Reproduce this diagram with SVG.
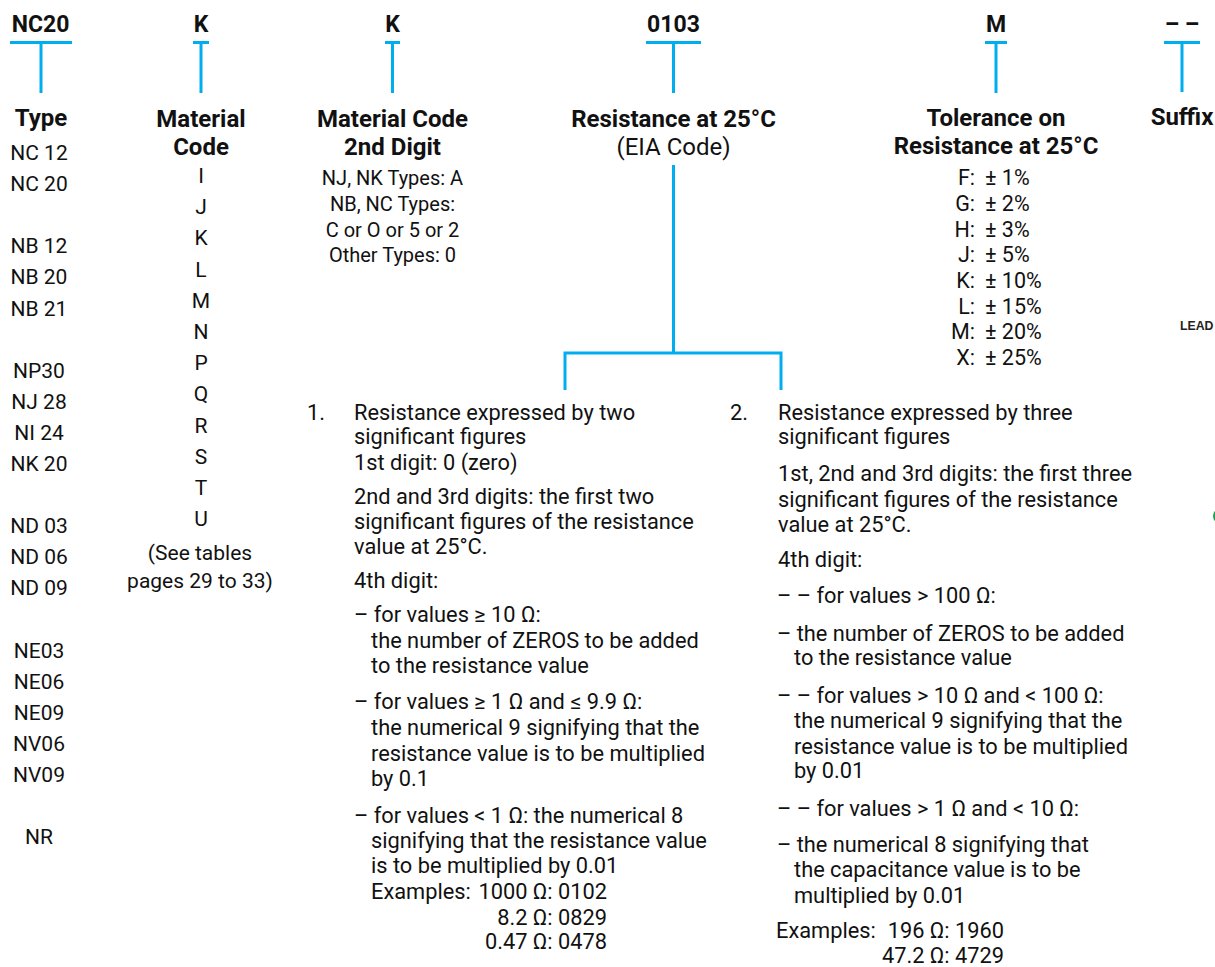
<svg xmlns="http://www.w3.org/2000/svg" width="1215" height="967" viewBox="0 0 1215 967">
<style>
text{font-family:Roboto,"Liberation Sans",sans-serif;fill:#111}
.code{font-size:23px;font-weight:bold;text-anchor:middle}
.hd{font-size:24px;font-weight:bold;text-anchor:middle}
.c{font-size:21px;text-anchor:middle}
.c2{font-size:20px;text-anchor:middle}
.p{font-size:21.8px}
.e{font-size:21.8px;text-anchor:end}
.t{font-size:21.5px}
.te{font-size:21.5px;text-anchor:end}
.ln{stroke:#00AEEF;stroke-width:3;fill:none}
</style>
<rect width="1215" height="967" fill="#fff"/>
<g id="connectors">
<path class="ln" d="M10 42.5H72M41 42.5V93"/>
<path class="ln" d="M193 42.5H209M201 42.5V93"/>
<path class="ln" d="M385 42.5H400M392.5 42.5V93"/>
<path class="ln" d="M646 42.5H701M673.5 42.5V93"/>
<path class="ln" d="M985 42.5H1007M996 42.5V93"/>
<path class="ln" d="M1164 42.5H1200M1182 42.5V92"/>
<path class="ln" d="M673.5 165V353M565 390V353H781V390"/>
</g>
<g id="type">
<text class="code" x="40.5" y="32">NC20</text>
<text class="hd" x="41" y="126">Type</text>
<text class="c" x="39" y="160">NC 12</text>
<text class="c" x="39" y="191.1">NC 20</text>
<text class="c" x="39" y="253.3">NB 12</text>
<text class="c" x="39" y="284.4">NB 20</text>
<text class="c" x="39" y="315.5">NB 21</text>
<text class="c" x="39" y="377.7">NP30</text>
<text class="c" x="39" y="408.8">NJ 28</text>
<text class="c" x="39" y="439.9">NI 24</text>
<text class="c" x="39" y="471">NK 20</text>
<text class="c" x="39" y="533.2">ND 03</text>
<text class="c" x="39" y="564.3">ND 06</text>
<text class="c" x="39" y="595.4">ND 09</text>
<text class="c" x="39" y="657.6">NE03</text>
<text class="c" x="39" y="688.7">NE06</text>
<text class="c" x="39" y="719.8">NE09</text>
<text class="c" x="39" y="750.9">NV06</text>
<text class="c" x="39" y="782">NV09</text>
<text class="c" x="39" y="844.2">NR</text>
</g>
<g id="material-code">
<text class="code" x="201" y="32">K</text>
<text class="hd" x="201" y="127">Material</text>
<text class="hd" x="201" y="155">Code</text>
<text class="c" x="201" y="183">I</text>
<text class="c" x="201" y="214.2">J</text>
<text class="c" x="201" y="245.4">K</text>
<text class="c" x="201" y="276.6">L</text>
<text class="c" x="201" y="307.8">M</text>
<text class="c" x="201" y="339">N</text>
<text class="c" x="201" y="370.2">P</text>
<text class="c" x="201" y="401.4">Q</text>
<text class="c" x="201" y="432.6">R</text>
<text class="c" x="201" y="463.8">S</text>
<text class="c" x="201" y="495">T</text>
<text class="c" x="201" y="526.2">U</text>
<text class="c" x="200" y="560">(See tables</text>
<text class="c" x="200" y="588">pages 29 to 33)</text>
</g>
<g id="material-code-2nd">
<text class="code" x="392.5" y="32">K</text>
<text class="hd" x="392.5" y="127">Material Code</text>
<text class="hd" x="392.5" y="155">2nd Digit</text>
<text class="c2" x="392.5" y="185">NJ, NK Types: A</text>
<text class="c2" x="392.5" y="211">NB, NC Types:</text>
<text class="c2" x="392.5" y="237">C or O or 5 or 2</text>
<text class="c2" x="392.5" y="262">Other Types: 0</text>
</g>
<g id="resistance">
<text class="code" x="673.5" y="32">0103</text>
<text class="hd" x="673.5" y="127">Resistance at 25°C</text>
<text x="673.5" y="155" style="font-size:24px;text-anchor:middle">(EIA Code)</text>
</g>
<g id="option-1">
<text class="p" x="307" y="420">1.</text>
<text class="p" x="354" y="420">Resistance expressed by two</text>
<text class="p" x="354" y="444">significant figures</text>
<text class="p" x="354" y="470">1st digit: 0 (zero)</text>
<text class="p" x="354" y="504">2nd and 3rd digits: the first two</text>
<text class="p" x="354" y="529">significant figures of the resistance</text>
<text class="p" x="354" y="554">value at 25°C.</text>
<text class="p" x="354" y="588">4th digit:</text>
<text class="p" x="354" y="622">– for values ≥ 10 Ω:</text>
<text class="p" x="371" y="648">the number of ZEROS to be added</text>
<text class="p" x="371" y="673">to the resistance value</text>
<text class="p" x="354" y="709">– for values ≥ 1 Ω and ≤ 9.9 Ω:</text>
<text class="p" x="371" y="735">the numerical 9 signifying that the</text>
<text class="p" x="371" y="761">resistance value is to be multiplied</text>
<text class="p" x="371" y="786">by 0.1</text>
<text class="p" x="354" y="823">– for values &lt; 1 Ω: the numerical 8</text>
<text class="p" x="371" y="848">signifying that the resistance value</text>
<text class="p" x="371" y="873">is to be multiplied by 0.01</text>
<text class="p" x="371" y="899">Examples:</text>
<text class="e" x="607" y="899">1000 Ω: 0102</text>
<text class="e" x="607" y="925">8.2 Ω: 0829</text>
<text class="e" x="607" y="949">0.47 Ω: 0478</text>
</g>
<g id="option-2">
<text class="p" x="730" y="420">2.</text>
<text class="p" x="778" y="420">Resistance expressed by three</text>
<text class="p" x="778" y="444">significant figures</text>
<text class="p" x="778" y="481">1st, 2nd and 3rd digits: the first three</text>
<text class="p" x="778" y="507">significant figures of the resistance</text>
<text class="p" x="778" y="532">value at 25°C.</text>
<text class="p" x="778" y="567">4th digit:</text>
<text class="p" x="777" y="603">– – for values &gt; 100 Ω:</text>
<text class="p" x="777" y="641">– the number of ZEROS to be added</text>
<text class="p" x="794" y="665">to the resistance value</text>
<text class="p" x="777" y="703">– – for values &gt; 10 Ω and &lt; 100 Ω:</text>
<text class="p" x="794" y="728">the numerical 9 signifying that the</text>
<text class="p" x="794" y="754">resistance value is to be multiplied</text>
<text class="p" x="794" y="778">by 0.01</text>
<text class="p" x="777" y="816">– – for values &gt; 1 Ω and &lt; 10 Ω:</text>
<text class="p" x="777" y="852">– the numerical 8 signifying that</text>
<text class="p" x="794" y="877">the capacitance value is to be</text>
<text class="p" x="794" y="903">multiplied by 0.01</text>
<text class="p" x="776" y="938">Examples:</text>
<text class="e" x="1004" y="938">196 Ω: 1960</text>
<text class="e" x="1004" y="963">47.2 Ω: 4729</text>
</g>
<g id="tolerance">
<text class="code" x="996" y="32">M</text>
<text class="hd" x="996" y="126">Tolerance on</text>
<text class="hd" x="996" y="154">Resistance at 25°C</text>
<text class="te" x="975" y="185">F:</text><text class="t" x="985" y="185">± 1%</text>
<text class="te" x="975" y="211">G:</text><text class="t" x="985" y="211">± 2%</text>
<text class="te" x="975" y="237">H:</text><text class="t" x="985" y="237">± 3%</text>
<text class="te" x="975" y="262">J:</text><text class="t" x="985" y="262">± 5%</text>
<text class="te" x="975" y="288">K:</text><text class="t" x="985" y="288">± 10%</text>
<text class="te" x="975" y="314">L:</text><text class="t" x="985" y="314">± 15%</text>
<text class="te" x="975" y="339">M:</text><text class="t" x="985" y="339">± 20%</text>
<text class="te" x="975" y="365">X:</text><text class="t" x="985" y="365">± 25%</text>
</g>
<g id="suffix">
<text class="code" x="1182" y="32">– –</text>
<text class="hd" x="1182" y="125">Suffix</text>
<text x="1180" y="330" style="font-family:'Liberation Sans',Arial,sans-serif;font-size:12.3px;font-weight:bold;fill:#222">LEAD</text>
<circle cx="1221" cy="516" r="8" fill="#1f9d55"/>
</g>
</svg>
